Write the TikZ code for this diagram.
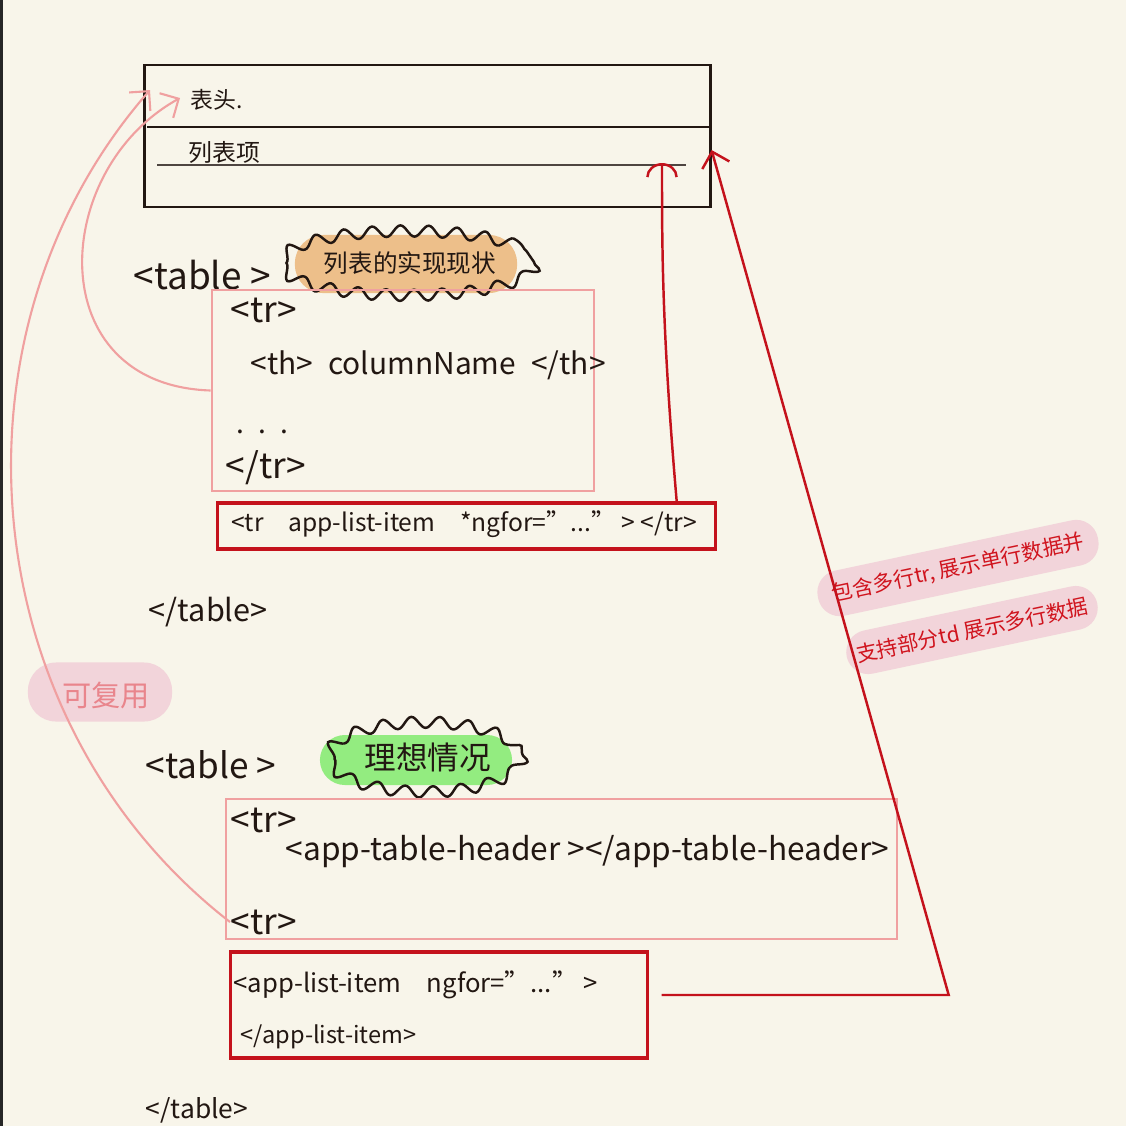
\documentclass[tikz,border=0pt]{standalone}
\usepackage{fontspec}
\setmainfont{Noto Sans CJK SC}
\usetikzlibrary{arrows.meta,decorations.pathmorphing}
\definecolor{paper}{HTML}{F8F5EA}
\definecolor{ink}{HTML}{221712}
\definecolor{pinkline}{HTML}{F0A0A0}
\definecolor{darkred}{HTML}{C4121C}
\definecolor{orangeblob}{HTML}{EDBF8A}
\definecolor{greenblob}{HTML}{93EC80}
\definecolor{pinkblob}{HTML}{F2D4DA}
\definecolor{notered}{HTML}{D0141E}
\definecolor{reusepink}{HTML}{E9858C}
\begin{document}
\begin{tikzpicture}[x=0.01cm, y=-0.01cm,
    every node/.style={inner sep=0pt},
    code/.style={text=ink, font=\fontsize{#1}{#1}\selectfont},
    code/.default=9,
    pinkbox/.style={draw=pinkline, line width=0.7pt},
    redbox/.style={draw=darkred, line width=0.9pt},
    wavy/.style={draw=ink, line width=0.7pt, decorate,
        decoration={snake, segment length=8pt, amplitude=1.6pt}},
    notebar/.style={fill=pinkblob, rounded corners=0.22cm, rotate=12,
        text=notered, font=\fontsize{6}{6}\selectfont},
    pinkarrow/.style={draw=pinkline, line width=0.6pt,
        -{Straight Barb[length=4pt,width=8pt]}},
    redarrow/.style={draw=darkred, line width=0.7pt,
        -{Straight Barb[length=4pt,width=8pt]}}]
    % 背景
    \useasboundingbox (0,0) rectangle (1126,1126);
    \fill[paper] (0,0) rectangle (1126,1126);
    \fill[black!85] (0,0) rectangle (3,1126);

    % 上图：表格样子
    \node[draw=ink, line width=0.8pt, minimum width=5.65cm, minimum height=1.42cm]
        (mock) at (427.5,136) {};
    \draw[ink, line width=0.8pt] (147,127) -- (710,127);
    \draw[ink!80, line width=0.6pt] (157,165) -- (686,165);
    \node[code=6.5, anchor=west] (hd) at (190,100) {表头.};
    \node[code=6.8, anchor=west] (li) at (188,152) {列表项};

    % 现状
    \node[code=10.5, anchor=west] (tag1) at (133,275) {<table >};
    \node[fill=orangeblob, rounded corners=0.28cm, minimum width=2.22cm,
        minimum height=0.58cm] (curbg) at (406,264) {};
    \node[code=7] (cur) at (410,263) {列表的实现现状};
    \draw[wavy] (408,262) ellipse (126 and 30);
    \node[pinkbox, minimum width=3.82cm, minimum height=2.01cm] (thbox) at (403,390.5) {};
    \node[code=10, anchor=west] (tr1) at (230,310) {<tr>};
    \node[code=8.5, anchor=west] (th) at (250,365) {<th>\enspace columnName\enspace </th>};
    \node[code=8, anchor=west] (dots) at (236,432) {.\enspace .\enspace .};
    \node[code=10, anchor=west] (tr2) at (225,468) {</tr>};
    \node[redbox, minimum width=4.97cm, minimum height=0.46cm] (li1) at (466.5,526) {};
    \node[code=7] (li1txt) at (464,524)
        {<tr\quad app-list-item\quad *ngfor="..." > </tr>};
    \node[code=8.7, anchor=west] (close1) at (148,612) {</table>};

    % 可复用
    \node[fill=pinkblob, rounded corners=0.28cm, minimum width=1.44cm,
        minimum height=0.59cm] (reusebg) at (100,692) {};
    \node[text=reusepink, font=\fontsize{8.3}{8.3}\selectfont] (reuse) at (106,695) {可复用};

    % 理想情况
    \node[code=10, anchor=west] (tag2) at (145,765) {<table >};
    \node[fill=greenblob, rounded corners=0.25cm, minimum width=1.92cm,
        minimum height=0.5cm] (idealbg) at (416,760) {};
    \node[code=9] (ideal) at (428,757) {理想情况};
    \draw[wavy] (426,753) ellipse (96 and 34);
    \node[pinkbox, minimum width=6.71cm, minimum height=1.40cm] (box2) at (561.5,869) {};
    \node[code=10, anchor=west] (trA) at (230,820) {<tr>};
    \node[code=9, anchor=west] (hdr) at (285,852) {<app-table-header ></app-table-header>};
    \node[code=10, anchor=west] (trB) at (230,922) {<tr>};
    \node[redbox, minimum width=4.16cm, minimum height=1.06cm] (li2) at (439,1005) {};
    \node[code=7.3, anchor=west] (li2a) at (233,985) {<app-list-item\quad ngfor="..." >};
    \node[code=6.7, anchor=west] (li2b) at (240,1037) {</app-list-item>};
    \node[code=7.5, anchor=west] (close2) at (145,1110) {</table>};

    % 说明
    \node[notebar, minimum width=2.86cm, minimum height=0.46cm] (note1) at (958,568)
        {包含多行tr, 展示单行数据并};
    \node[notebar, minimum width=2.56cm, minimum height=0.44cm] (note2) at (972,630)
        {支持部分td 展示多行数据};

    % 连线
    \coordinate (tipA) at (180,98);
    \coordinate (tipB) at (150,90);
    \coordinate (tipC) at (662,163);
    \draw[pinkarrow] (thbox.west) .. controls (40,385) and (50,170) .. (tipA);
    \draw[pinkarrow] (trB.west) .. controls (-30,720) and (-60,330) .. (tipB);
    \draw[redarrow, -{Arc Barb[length=4pt,width=9pt]}] ([xshift=-0.4cm]li1.north east)
        .. controls (662,330) and (662,250) .. (tipC);
    \draw[redarrow] ([shift={(13,-10)}]li2.east) -- ++(287,0)
        -- ([yshift=-0.14cm]mock.east);
\end{tikzpicture}
\end{document}
